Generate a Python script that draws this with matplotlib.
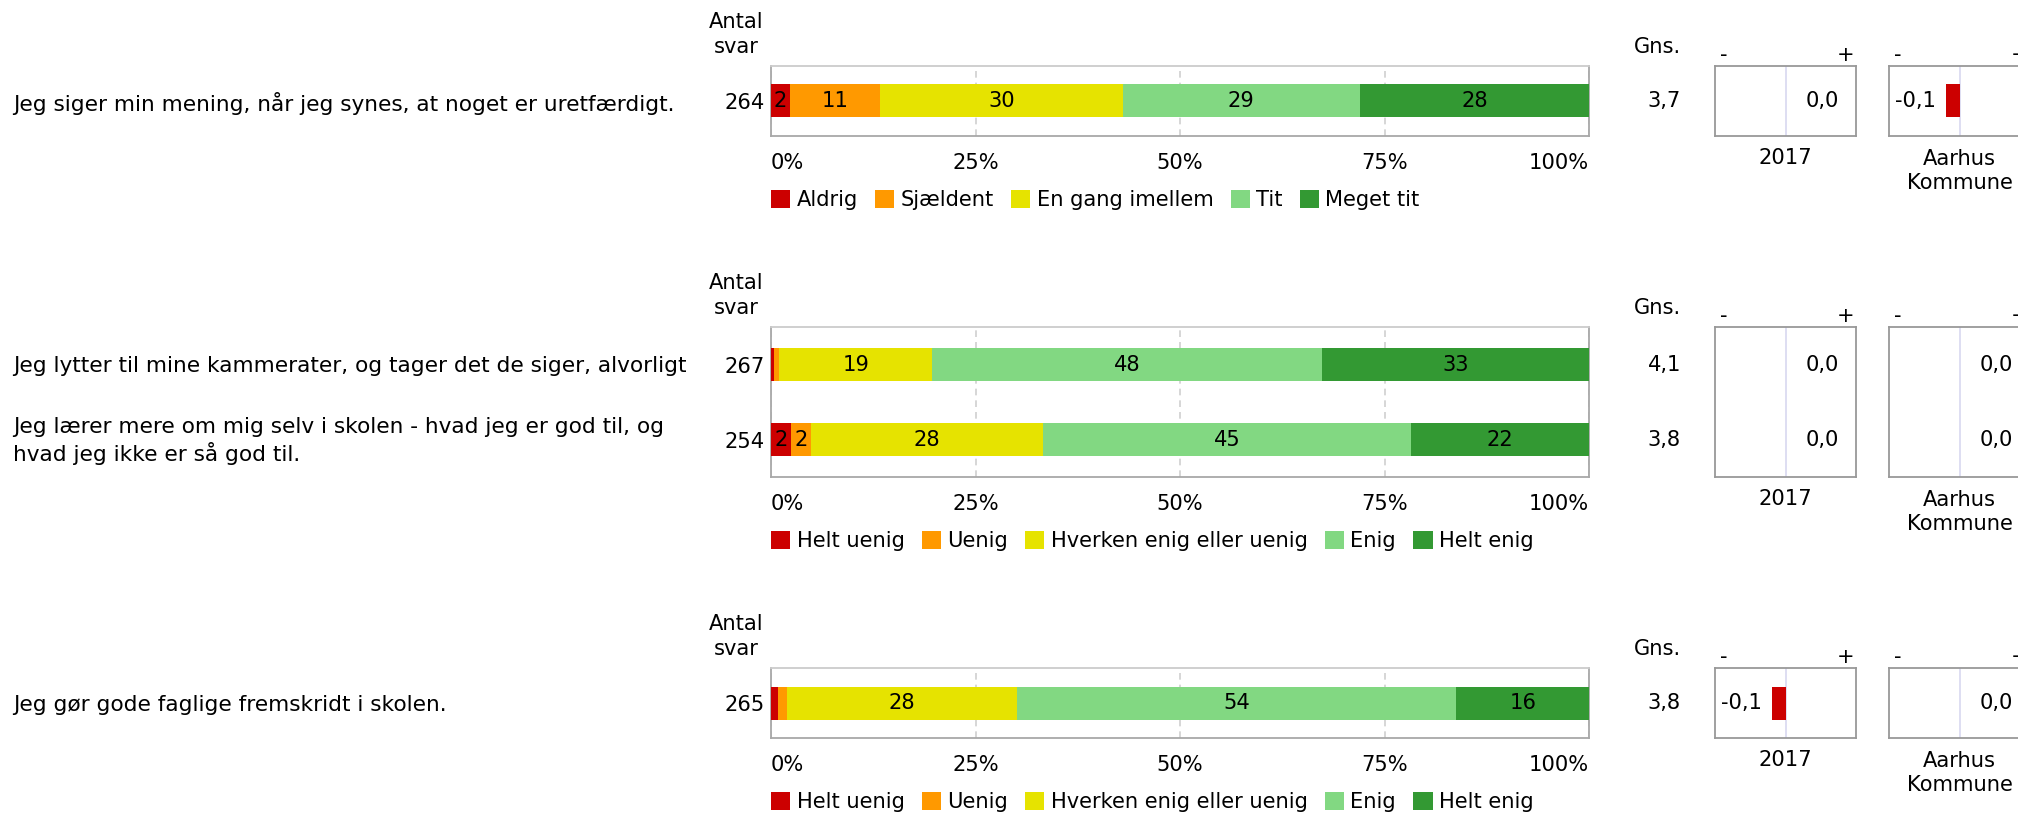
import matplotlib
matplotlib.use("Agg")
import matplotlib.pyplot as plt
from matplotlib.patches import Patch

plt.rcParams['font.family'] = ['DejaVu Sans']

# ---------------- data ----------------
questions = [
    "Jeg siger min mening, når jeg synes, at noget er uretfærdigt.",
    "Jeg lytter til mine kammerater, og tager det de siger, alvorligt",
    "Jeg lærer mere om mig selv i skolen - hvad jeg er god til, og\nhvad jeg ikke er så god til.",
    "Jeg gør gode faglige fremskridt i skolen.",
]
counts = [264, 267, 254, 265]
averages = [3.7, 4.1, 3.8, 3.8]
diff_2017 = [0.0, 0.0, 0.0, -0.1]
diff_aarhus = [-0.1, 0.0, 0.0, 0.0]

freq_categories = ["Aldrig", "Sjældent", "En gang imellem", "Tit", "Meget tit"]
agree_categories = ["Helt uenig", "Uenig", "Hverken enig eller uenig", "Enig", "Helt enig"]

q1_pct = [2.3, 11.0, 29.7, 29.0, 28.0]
q2_pct = [0.4, 0.6, 18.7, 47.7, 32.6]
q3_pct = [2.4, 2.5, 28.3, 45.1, 21.7]
q4_pct = [0.8, 1.1, 28.2, 53.7, 16.2]
pct_rows = [q1_pct, q2_pct, q3_pct, q4_pct]

tick_values = [0, 25, 50, 75, 100]
tick_labels = ["0%", "25%", "50%", "75%", "100%"]
compare_labels = ["2017", "Aarhus\nKommune"]

colors = ["#cc0000", "#ff9900", "#e6e300", "#82d882", "#339933"]

# ---------------- layout ----------------
W, H = 2018, 813
DPI = 100
FS = 15.1
FS_Q = 15.6
fig = plt.figure(figsize=(W / DPI, H / DPI), dpi=DPI)

def px_axes(x0, y0, x1, y1):
    return fig.add_axes([x0 / W, 1 - y1 / H, (x1 - x0) / W, (y1 - y0) / H])

def ftext(x, y, s, **kw):
    kw.setdefault('fontsize', FS)
    kw.setdefault('va', 'center')
    fig.text(x / W, 1 - y / H, s, **kw)

def fmt(v):
    s = f"{v:.1f}".replace('.', ',')
    return "0,0" if s == "-0,0" else s

ROW_PX = 75.0
BAR_H = 33 / ROW_PX
BAR_X0, BAR_X1 = 771, 1589
BOX_X = [(1715, 1856), (1889, 2030)]

sections = [
    dict(rows=[0], cats=freq_categories, top=66, bottom=136),
    dict(rows=[1, 2], cats=agree_categories, top=327, bottom=477),
    dict(rows=[3], cats=agree_categories, top=668, bottom=738),
]
label_y = [103, 366, 441, 705]

for sec in sections:
    rows = sec['rows']
    n = len(rows)
    top, bot = sec['top'], sec['bottom']
    c = (n - 1) / 2
    hr = (bot - top) / ROW_PX / 2
    ylim = (c + hr, c - hr)

    ax = px_axes(BAR_X0, top, BAR_X1, bot)
    for i, r in enumerate(rows):
        left = 0
        for j, v in enumerate(pct_rows[r]):
            ax.barh(i, v, left=left, height=BAR_H, color=colors[j], zorder=3)
            if round(v) >= 2:
                ax.text(left + v / 2, i, f"{round(v)}", ha='center', va='center',
                        fontsize=FS, zorder=4)
            left += v
    ax.set_xlim(0, 100)
    ax.set_ylim(*ylim)
    ax.set_xticks(tick_values)
    ax.set_xticklabels(tick_labels)
    ax.set_yticks(range(n))
    ax.set_yticklabels([str(counts[r]) for r in rows])
    ax.tick_params(axis='x', length=0, labelsize=FS, pad=12)
    ax.tick_params(axis='y', length=0, labelsize=FS, pad=4.5)
    xl = ax.get_xticklabels()
    xl[0].set_ha('left')
    xl[-1].set_ha('right')
    ax.xaxis.grid(True, color='#cfcfcf', linestyle=(0, (4, 3)), linewidth=1.2, zorder=0)
    ax.set_axisbelow(True)
    for name, sp in ax.spines.items():
        sp.set_color('#a8a8a8')
        sp.set_linewidth(1.3)
    ax.spines['top'].set_color('#cccccc')

    # headers
    ftext(736, top - 44, "Antal", ha='center')
    ftext(736, top - 19, "svar", ha='center')
    ftext(1681, top - 19, "Gns.", ha='right')

    for i, r in enumerate(rows):
        yc = top + (i - ylim[1]) * ROW_PX
        ftext(13, label_y[r], questions[r], ha='left', linespacing=1.3, fontsize=FS_Q)
        ftext(1681, yc, fmt(averages[r]), ha='right')

    # comparison boxes
    for k, (bx0, bx1) in enumerate(BOX_X):
        diffs = diff_2017 if k == 0 else diff_aarhus
        bax = px_axes(bx0, top, bx1, bot)
        bax.set_xlim(-0.54, 0.54)
        bax.set_ylim(*ylim)
        bax.axvline(0, color='#d8d8f0', linewidth=1.2, zorder=1)
        for i, r in enumerate(rows):
            v = diffs[r]
            bax.barh(i, v, height=BAR_H, color='#cc0000', zorder=3)
            if v < 0:
                bax.annotate(fmt(v), xy=(v, i), xytext=(-10 * 72 / DPI, 0),
                             textcoords='offset points', ha='right', va='center', fontsize=FS)
            else:
                bax.annotate(fmt(v), xy=(0.54, i), xytext=(-17 * 72 / DPI, 0),
                             textcoords='offset points', ha='right', va='center', fontsize=FS)
        bax.set_xticks([])
        bax.set_yticks([])
        for sp in bax.spines.values():
            sp.set_color('#999999')
            sp.set_linewidth(1.3)
        ftext(bx0 + 5, top - 11, "-", ha='left')
        ftext(bx1 - 2, top - 11, "+", ha='right')
        ftext((bx0 + bx1) / 2, bot + 22 + (13 if k == 1 else 0), compare_labels[k],
              ha='center', linespacing=1.25)

    # legend
    handles = [Patch(facecolor=col, edgecolor='none', label=lab)
               for col, lab in zip(colors, sec['cats'])]
    fig.legend(handles=handles, loc='center left',
               bbox_to_anchor=(BAR_X0 / W, 1 - (bot + 64) / H),
               ncol=5, frameon=False, fontsize=FS,
               handlelength=0.92, handleheight=0.92, handletextpad=0.3,
               columnspacing=0.82, borderpad=0, borderaxespad=0)

fig.savefig("out.png", dpi=DPI)
